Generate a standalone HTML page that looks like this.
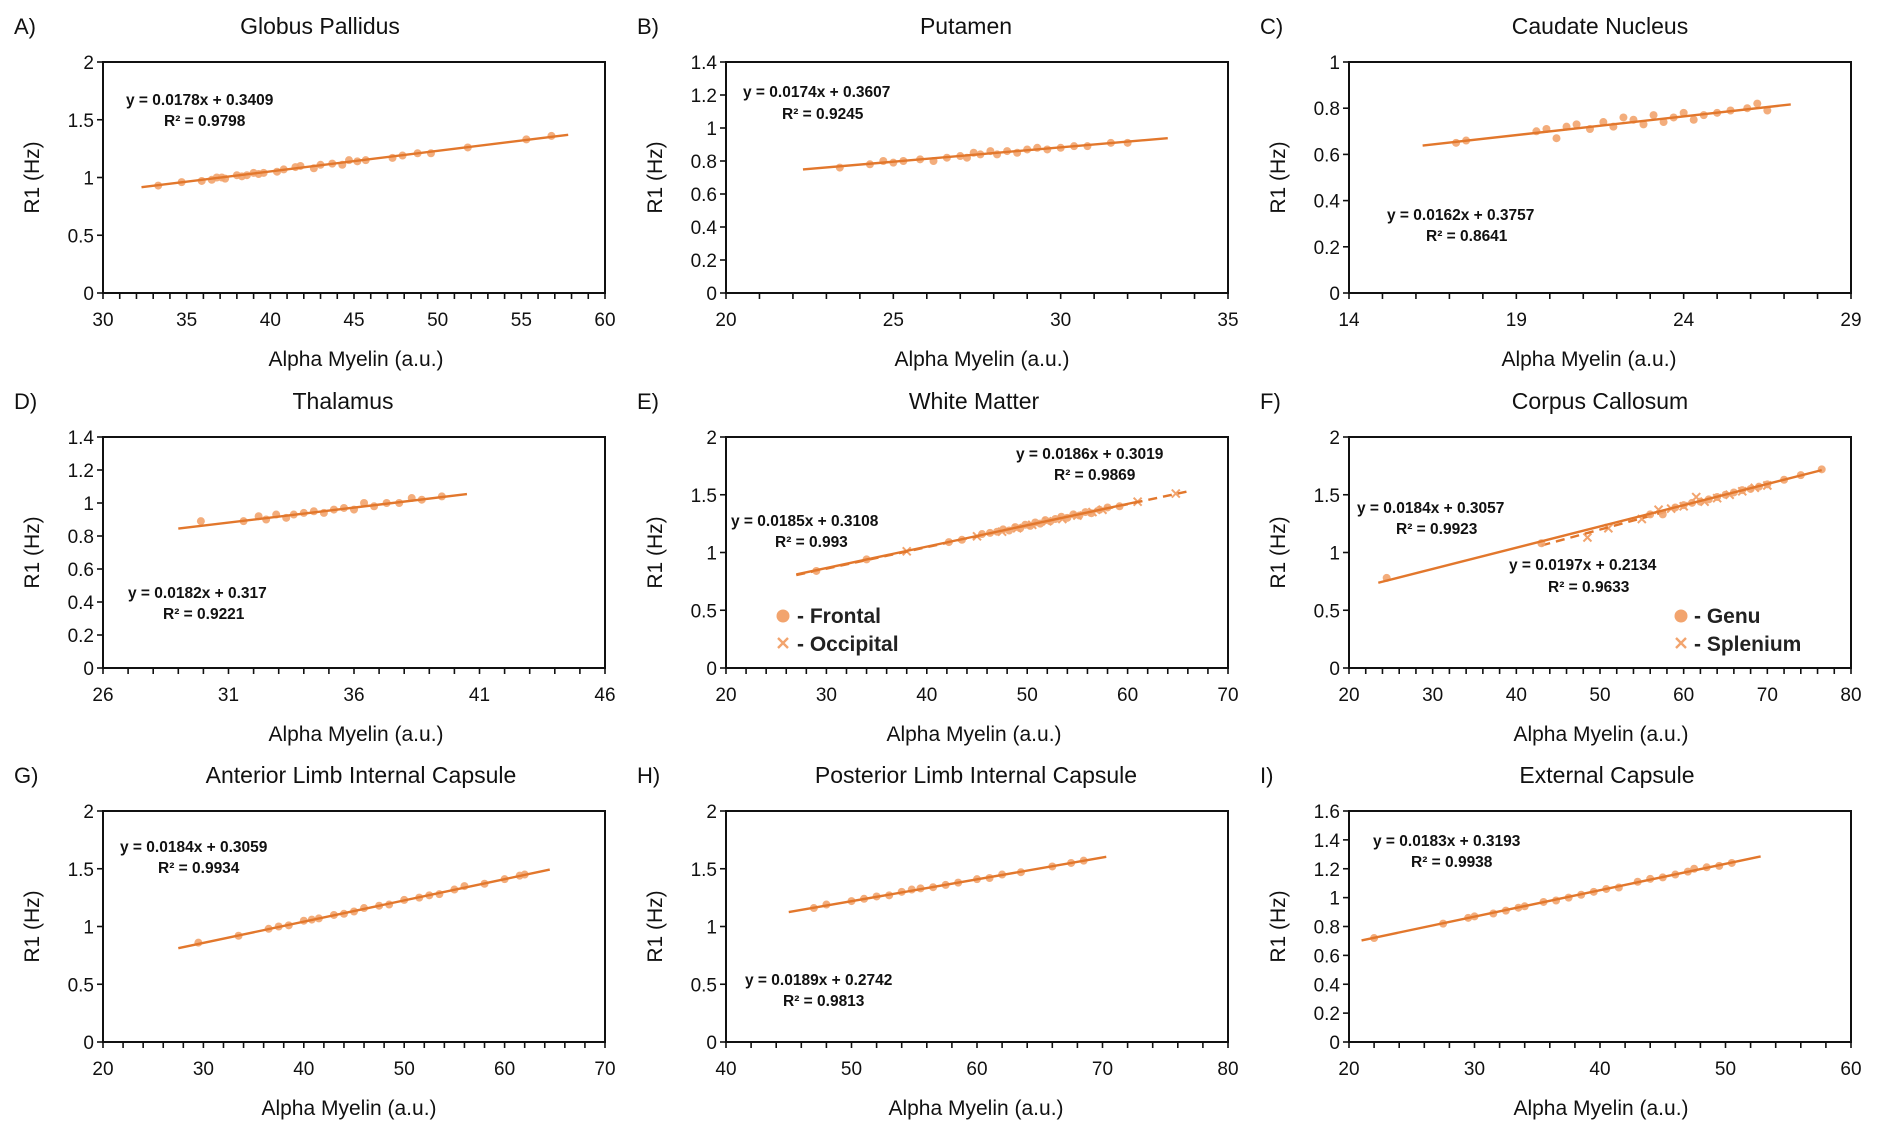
<!DOCTYPE html>
<html><head><meta charset="utf-8">
<style>
html,body{margin:0;padding:0;background:#fff;}
svg{display:block;font-family:"Liberation Sans",Arial,sans-serif;}
</style></head>
<body>
<svg id="fig" width="1878" height="1125" viewBox="0 0 1878 1125" xmlns="http://www.w3.org/2000/svg"></svg>
<script>
// ---- data arrays ----
const aX=[33.3,34.7,35.9,36.5,36.8,37.1,37.3,38,38.3,38.6,39,39.3,39.6,40.4,40.8,41.5,41.8,42.6,43,43.7,44.3,44.7,45.2,45.7,47.3,47.9,48.8,49.6,51.8,55.3,56.8];
const aY=[0.93,0.96,0.97,0.98,1.00,1.00,0.99,1.02,1.01,1.02,1.04,1.03,1.04,1.05,1.07,1.09,1.10,1.08,1.11,1.12,1.11,1.15,1.14,1.15,1.17,1.19,1.21,1.21,1.26,1.33,1.36];
const bX=[23.4,24.3,24.7,25,25.3,25.8,26.2,26.6,27,27.2,27.4,27.6,27.9,28.1,28.4,28.7,29,29.3,29.6,30,30.4,30.8,31.5,32];
const bY=[0.76,0.78,0.80,0.79,0.80,0.81,0.80,0.82,0.83,0.82,0.85,0.84,0.86,0.84,0.86,0.85,0.87,0.88,0.87,0.88,0.89,0.89,0.91,0.91];
const cX=[17.2,17.5,19.6,19.9,20.2,20.5,20.8,21.2,21.6,21.9,22.2,22.5,22.8,23.1,23.4,23.7,24,24.3,24.6,25,25.4,25.9,26.2,26.5];
const cY=[0.65,0.66,0.70,0.71,0.67,0.72,0.73,0.71,0.74,0.72,0.76,0.75,0.73,0.77,0.74,0.76,0.78,0.75,0.77,0.78,0.79,0.80,0.82,0.79];
const dX=[29.9,31.6,32.2,32.5,32.9,33.3,33.6,34,34.4,34.8,35.2,35.6,36,36.4,36.8,37.3,37.8,38.3,38.7,39.5];
const dY=[0.89,0.89,0.92,0.90,0.93,0.91,0.93,0.94,0.95,0.94,0.96,0.97,0.96,1.00,0.98,1.00,1.00,1.03,1.02,1.04];
const eFX=[29,34,42.2,43.5,45.5,46.3,47,47.6,48.2,48.8,49.3,49.8,50.3,50.8,51.3,51.8,52.3,52.8,53.4,54,54.6,55.2,55.8,56.4,57.2,58,59.2];
const eFY=[0.84,0.94,1.09,1.11,1.16,1.17,1.18,1.20,1.19,1.22,1.21,1.24,1.23,1.26,1.25,1.28,1.27,1.29,1.31,1.30,1.33,1.32,1.35,1.34,1.37,1.39,1.40];
const eOX=[38,45,47.5,49,50.5,52,53.5,55,56.5,57.5,61,64.8];
const eOY=[1.01,1.14,1.18,1.21,1.24,1.27,1.29,1.32,1.35,1.37,1.44,1.51];
const fGX=[24.5,43,56,57.5,59,60,61,62,63,64,65,66,67,68,69,70,72,74,76.5];
const fGY=[0.78,1.08,1.33,1.33,1.39,1.41,1.43,1.44,1.46,1.48,1.50,1.52,1.54,1.55,1.57,1.59,1.63,1.67,1.72];
const fSX=[48.5,51,55,57,58.5,60,61.5,62.5,64,65.5,67,68.5,70];
const fSY=[1.13,1.21,1.29,1.37,1.38,1.40,1.48,1.44,1.47,1.50,1.53,1.56,1.58];
const gX=[29.5,33.5,36.5,37.5,38.5,40,40.8,41.5,43,44,45,46,47.5,48.5,50,51.5,52.5,53.5,55,56,58,60,61.5,62];
const gY=[0.86,0.92,0.98,1.00,1.01,1.05,1.06,1.07,1.10,1.11,1.13,1.16,1.18,1.19,1.23,1.25,1.27,1.28,1.32,1.35,1.37,1.41,1.44,1.45];
const hX=[47,48,50,51,52,53,54,54.8,55.5,56.5,57.5,58.5,60,61,62,63.5,66,67.5,68.5];
const hY=[1.16,1.19,1.22,1.24,1.26,1.27,1.30,1.32,1.33,1.34,1.36,1.38,1.41,1.42,1.45,1.47,1.52,1.55,1.57];
const iX=[22,27.5,29.5,30,31.5,32.5,33.5,34,35.5,36.5,37.5,38.5,39.5,40.5,41.5,43,44,45,46,47,47.5,48.5,49.5,50.5];
const iY=[0.72,0.82,0.86,0.87,0.89,0.91,0.93,0.94,0.97,0.98,1.00,1.02,1.04,1.06,1.07,1.11,1.13,1.14,1.16,1.18,1.20,1.21,1.22,1.24];
// fit lines: [slope, intercept, xStart, xEnd]
const aFit=[0.0178,0.3409,32.3,57.8];
const bFit=[0.0174,0.3607,22.3,33.2];
const cFit=[0.0162,0.3757,16.2,27.2];
const dFit=[0.0182,0.317,29,40.5];
const eFFit=[0.0185,0.3108,27,61];
const eOFit=[0.0186,0.3019,27,66];
const fGFit=[0.0184,0.3057,23.5,76.5];
const fSFit=[0.0197,0.2134,43,58];
const gFit=[0.0184,0.3059,27.5,64.5];
const hFit=[0.0189,0.2742,45,70.3];
const iFit=[0.0183,0.3193,21,52.8];
// axis ticks
const aXT=[30,35,40,45,50,55,60], aYT=[0,0.5,1,1.5,2];
const bXT=[20,25,30,35], bYT=[0,0.2,0.4,0.6,0.8,1,1.2,1.4];
const cXT=[14,19,24,29], cYT=[0,0.2,0.4,0.6,0.8,1];
const dXT=[26,31,36,41,46], dYT=[0,0.2,0.4,0.6,0.8,1,1.2,1.4];
const eXT=[20,30,40,50,60,70], eYT=[0,0.5,1,1.5,2];
const fXT=[20,30,40,50,60,70,80], fYT=[0,0.5,1,1.5,2];
const gXT=[20,30,40,50,60,70], gYT=[0,0.5,1,1.5,2];
const hXT=[40,50,60,70,80], hYT=[0,0.5,1,1.5,2];
const iXT=[20,30,40,50,60], iYT=[0,0.2,0.4,0.6,0.8,1,1.2,1.4,1.6];

const NS='http://www.w3.org/2000/svg';
const svg=document.getElementById('fig');
const PT='#f2a46e', LN='#e2772c';
function mk(tag,attrs,parent,text){const e=document.createElementNS(NS,tag);for(const k in attrs)e.setAttribute(k,attrs[k]);if(text!==undefined)e.textContent=text;(parent||svg).appendChild(e);return e;}

const cols=[103,726,1349], rows=[62,437,811], W=502, H=231;
const panels=[
 {id:'a',L:'A)',t:'Globus Pallidus',tx:320,ax:356,c:0,r:0,xt:aXT,yt:aYT,minor:1,series:[{x:aX,y:aY,fit:aFit,m:'o'}],eq:[[126,105,'y = 0.0178x + 0.3409'],[164,126,'R² = 0.9798']]},
 {id:'b',L:'B)',t:'Putamen',tx:966,ax:982,c:1,r:0,xt:bXT,yt:bYT,minor:1,series:[{x:bX,y:bY,fit:bFit,m:'o'}],eq:[[743,97,'y = 0.0174x + 0.3607'],[782,119,'R² = 0.9245']]},
 {id:'c',L:'C)',t:'Caudate Nucleus',tx:1600,ax:1589,c:2,r:0,xt:cXT,yt:cYT,minor:1,series:[{x:cX,y:cY,fit:cFit,m:'o'}],eq:[[1387,220,'y = 0.0162x + 0.3757'],[1426,241,'R² = 0.8641']]},
 {id:'d',L:'D)',t:'Thalamus',tx:343,ax:356,c:0,r:1,xt:dXT,yt:dYT,minor:1,series:[{x:dX,y:dY,fit:dFit,m:'o'}],eq:[[128,598,'y = 0.0182x + 0.317'],[163,619,'R² = 0.9221']]},
 {id:'e',L:'E)',t:'White Matter',tx:974,ax:974,c:1,r:1,xt:eXT,yt:eYT,minor:2,series:[{x:eOX,y:eOY,fit:eOFit,m:'x',dash:true},{x:eFX,y:eFY,fit:eFFit,m:'o'}],eq:[[731,526,'y = 0.0185x + 0.3108'],[775,547,'R² = 0.993'],[1016,459,'y = 0.0186x + 0.3019'],[1054,480,'R² = 0.9869']],leg:[783,797,'- Frontal','- Occipital']},
 {id:'f',L:'F)',t:'Corpus Callosum',tx:1600,ax:1601,c:2,r:1,xt:fXT,yt:fYT,minor:2,series:[{x:fSX,y:fSY,fit:fSFit,m:'x',dash:true},{x:fGX,y:fGY,fit:fGFit,m:'o'}],eq:[[1357,513,'y = 0.0184x + 0.3057'],[1396,534,'R² = 0.9923'],[1509,570,'y = 0.0197x + 0.2134'],[1548,592,'R² = 0.9633']],leg:[1681,1694,'- Genu','- Splenium']},
 {id:'g',L:'G)',t:'Anterior Limb Internal Capsule',tx:361,ax:349,c:0,r:2,xt:gXT,yt:gYT,minor:2,series:[{x:gX,y:gY,fit:gFit,m:'o'}],eq:[[120,852,'y = 0.0184x + 0.3059'],[158,873,'R² = 0.9934']]},
 {id:'h',L:'H)',t:'Posterior Limb Internal Capsule',tx:976,ax:976,c:1,r:2,xt:hXT,yt:hYT,minor:2,series:[{x:hX,y:hY,fit:hFit,m:'o'}],eq:[[745,985,'y = 0.0189x + 0.2742'],[783,1006,'R² = 0.9813']]},
 {id:'i',L:'I)',t:'External Capsule',tx:1607,ax:1601,c:2,r:2,xt:iXT,yt:iYT,minor:2,series:[{x:iX,y:iY,fit:iFit,m:'o'}],eq:[[1373,846,'y = 0.0183x + 0.3193'],[1411,867,'R² = 0.9938']]}
];

panels.forEach(p=>{
  const x0=cols[p.c], y0=rows[p.r];
  const g=mk('g',{});
  
  
  const xmin=p.xt[0], xmax=p.xt[p.xt.length-1], ymin=p.yt[0], ymax=p.yt[p.yt.length-1];
  const sx=v=>x0+(v-xmin)/(xmax-xmin)*W;
  const sy=v=>y0+H-(v-ymin)/(ymax-ymin)*H;
  const lab=mk('text',{x:x0-89,y:y0-28,'font-size':22,fill:'#111'},g,p.L);
  
  
  const ti=mk('text',{x:p.tx,y:y0-28,'font-size':23,'text-anchor':'middle',fill:'#111'},g,p.t);
  
  
  const box=mk('rect',{x:x0,y:y0,width:W,height:H,fill:'none',stroke:'#111','stroke-width':2},g);
  
  
  for(let v=xmin;v<=xmax+1e-9;v+=p.minor){mk('line',{x1:sx(v),x2:sx(v),y1:y0+H,y2:y0+H+6,stroke:'#111','stroke-width':1.6},g);}
  p.xt.forEach(v=>{const t=mk('text',{x:sx(v),y:y0+H+33,'font-size':19,'text-anchor':'middle',fill:'#111'},g,String(v));
    
    });
  p.yt.forEach(v=>{mk('line',{x1:x0-6,x2:x0,y1:sy(v),y2:sy(v),stroke:'#111','stroke-width':1.6},g);
    const t=mk('text',{x:x0-9,y:sy(v)+7,'font-size':19,'text-anchor':'end',fill:'#111'},g,String(v));
    
    });
  const xa=mk('text',{x:p.ax,y:y0+H+73,'font-size':21,'text-anchor':'middle',fill:'#111'},g,'Alpha Myelin (a.u.)');
  
  
  const ya=mk('text',{x:0,y:0,'font-size':21,'text-anchor':'middle',fill:'#111',transform:`translate(${x0-64},${y0+H/2}) rotate(-90)`},g,'R1 (Hz)');
  
  
  p.series.forEach(s=>{
    s.x.forEach((xv,i)=>{
      let m;
      if(s.m==='o'){m=mk('circle',{cx:sx(xv),cy:sy(s.y[i]),r:4,fill:PT,opacity:0.9},g);}
      else{const cx=sx(xv),cy=sy(s.y[i]);m=mk('path',{d:`M${cx-4},${cy-4}L${cx+4},${cy+4}M${cx-4},${cy+4}L${cx+4},${cy-4}`,stroke:PT,'stroke-width':2},g);}
      
      
    });
    const f=s.fit;
    const ln=mk('line',{x1:sx(f[2]),y1:sy(f[0]*f[2]+f[1]),x2:sx(f[3]),y2:sy(f[0]*f[3]+f[1]),stroke:LN,'stroke-width':2.4},g);
    if(s.dash)ln.setAttribute('stroke-dasharray','9,6');
    
    
  });
  p.eq.forEach(e=>{const t=mk('text',{x:e[0],y:e[1],'font-size':15.5,'font-weight':'bold',fill:'#111'},g,e[2]);
    
    });
  if(p.leg){
    const [cx,tx,l1,l2]=p.leg;
    const c=mk('circle',{cx:cx,cy:616,r:6.5,fill:PT},g);
    
    
    const xm=mk('path',{d:`M${cx-5},${638}L${cx+5},${648}M${cx-5},${648}L${cx+5},${638}`,stroke:PT,'stroke-width':2.4},g);
    
    
    const t1=mk('text',{x:tx,y:623,'font-size':21,'font-weight':'bold',fill:'#222'},g,l1);
    
    
    const t2=mk('text',{x:tx,y:651,'font-size':21,'font-weight':'bold',fill:'#222'},g,l2);
    
    
  }
});
</script>
</body></html>
